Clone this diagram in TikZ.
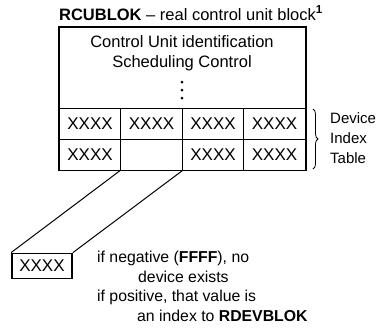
\documentclass[tikz,border=0pt]{standalone}
\usepackage{fontspec}
\setmainfont{Liberation Sans}
\usetikzlibrary{decorations.pathreplacing}
\begin{document}
\begin{tikzpicture}[x=1pt,y=-1pt,
  txt/.style={font=\fontsize{16.5}{18}\selectfont, inner sep=0pt},
  note/.style={font=\fontsize{15.8}{18}\selectfont, inner sep=0pt, anchor=base west},
  side/.style={font=\fontsize{15}{18}\selectfont, inner sep=0pt, anchor=west},
  cell/.style={draw, line width=0.8pt, minimum width=61.5pt, minimum height=31pt, inner sep=0pt, font=\fontsize{17}{18}\selectfont},
  thickline/.style={line width=1.8pt},
  link/.style={line width=1pt},
  dotmark/.style={fill=black, circle, inner sep=0pt, minimum size=3pt}]
\useasboundingbox (0,0) rectangle (381,335);
% title
\node[txt] (title) at (191,13) {\textbf{RCUBLOK} \textendash\ real control unit block\textsuperscript{\textbf{1}}};
% header area
\node[draw, line width=0.8pt, minimum width=246pt, minimum height=81pt, inner sep=0pt] (hdr) at (182,67.5) {};
\node[txt] (l1) at (182,42) {Control Unit identification};
\node[txt] (l2) at (182,63) {Scheduling Control};
\node[dotmark] (d1) at (182,82) {};
\node[dotmark] (d2) at (182,90) {};
\node[dotmark] (d3) at (182,98) {};
% cells
\node[cell] (c11) at (90,123.5) {XXXX};
\node[cell] (c12) at (151.5,123.5) {XXXX};
\node[cell] (c13) at (213,123.5) {XXXX};
\node[cell] (c14) at (274.5,123.5) {XXXX};
\node[cell] (c21) at (90,154.5) {XXXX};
\node[cell] (c22) at (151.5,154.5) {};
\node[cell] (c23) at (213,154.5) {XXXX};
\node[cell] (c24) at (274.5,154.5) {XXXX};
\draw[thickline] (hdr.north west) rectangle (c24.south east);
% brace
\coordinate (bt) at (313,109);
\coordinate (bb) at (313,169);
\draw[line width=0.8pt, decorate, decoration={brace, amplitude=5pt}] (bt) -- (bb);
\node[side] (dev) at (330,118) {Device};
\node[side] (idx) at (330,138) {Index};
\node[side] (tab) at (330,158) {Table};
% value box
\node[draw, thickline, minimum width=60pt, minimum height=25pt, inner sep=0pt, font=\fontsize{17}{18}\selectfont] (val) at (42,266) {XXXX};
\draw[link] (c22.south west) -- (val.north west);
\draw[link] (c22.south east) -- (val.north east);
% notes
\node[note] (n1) at (97,262) {if negative (\textbf{FFFF}), no};
\node[note] (n2) at (138,282) {device exists};
\node[note] (n3) at (97,301) {if positive, that value is};
\node[note] (n4) at (137,321) {an index to \textbf{RDEVBLOK}};
\end{tikzpicture}
\end{document}
